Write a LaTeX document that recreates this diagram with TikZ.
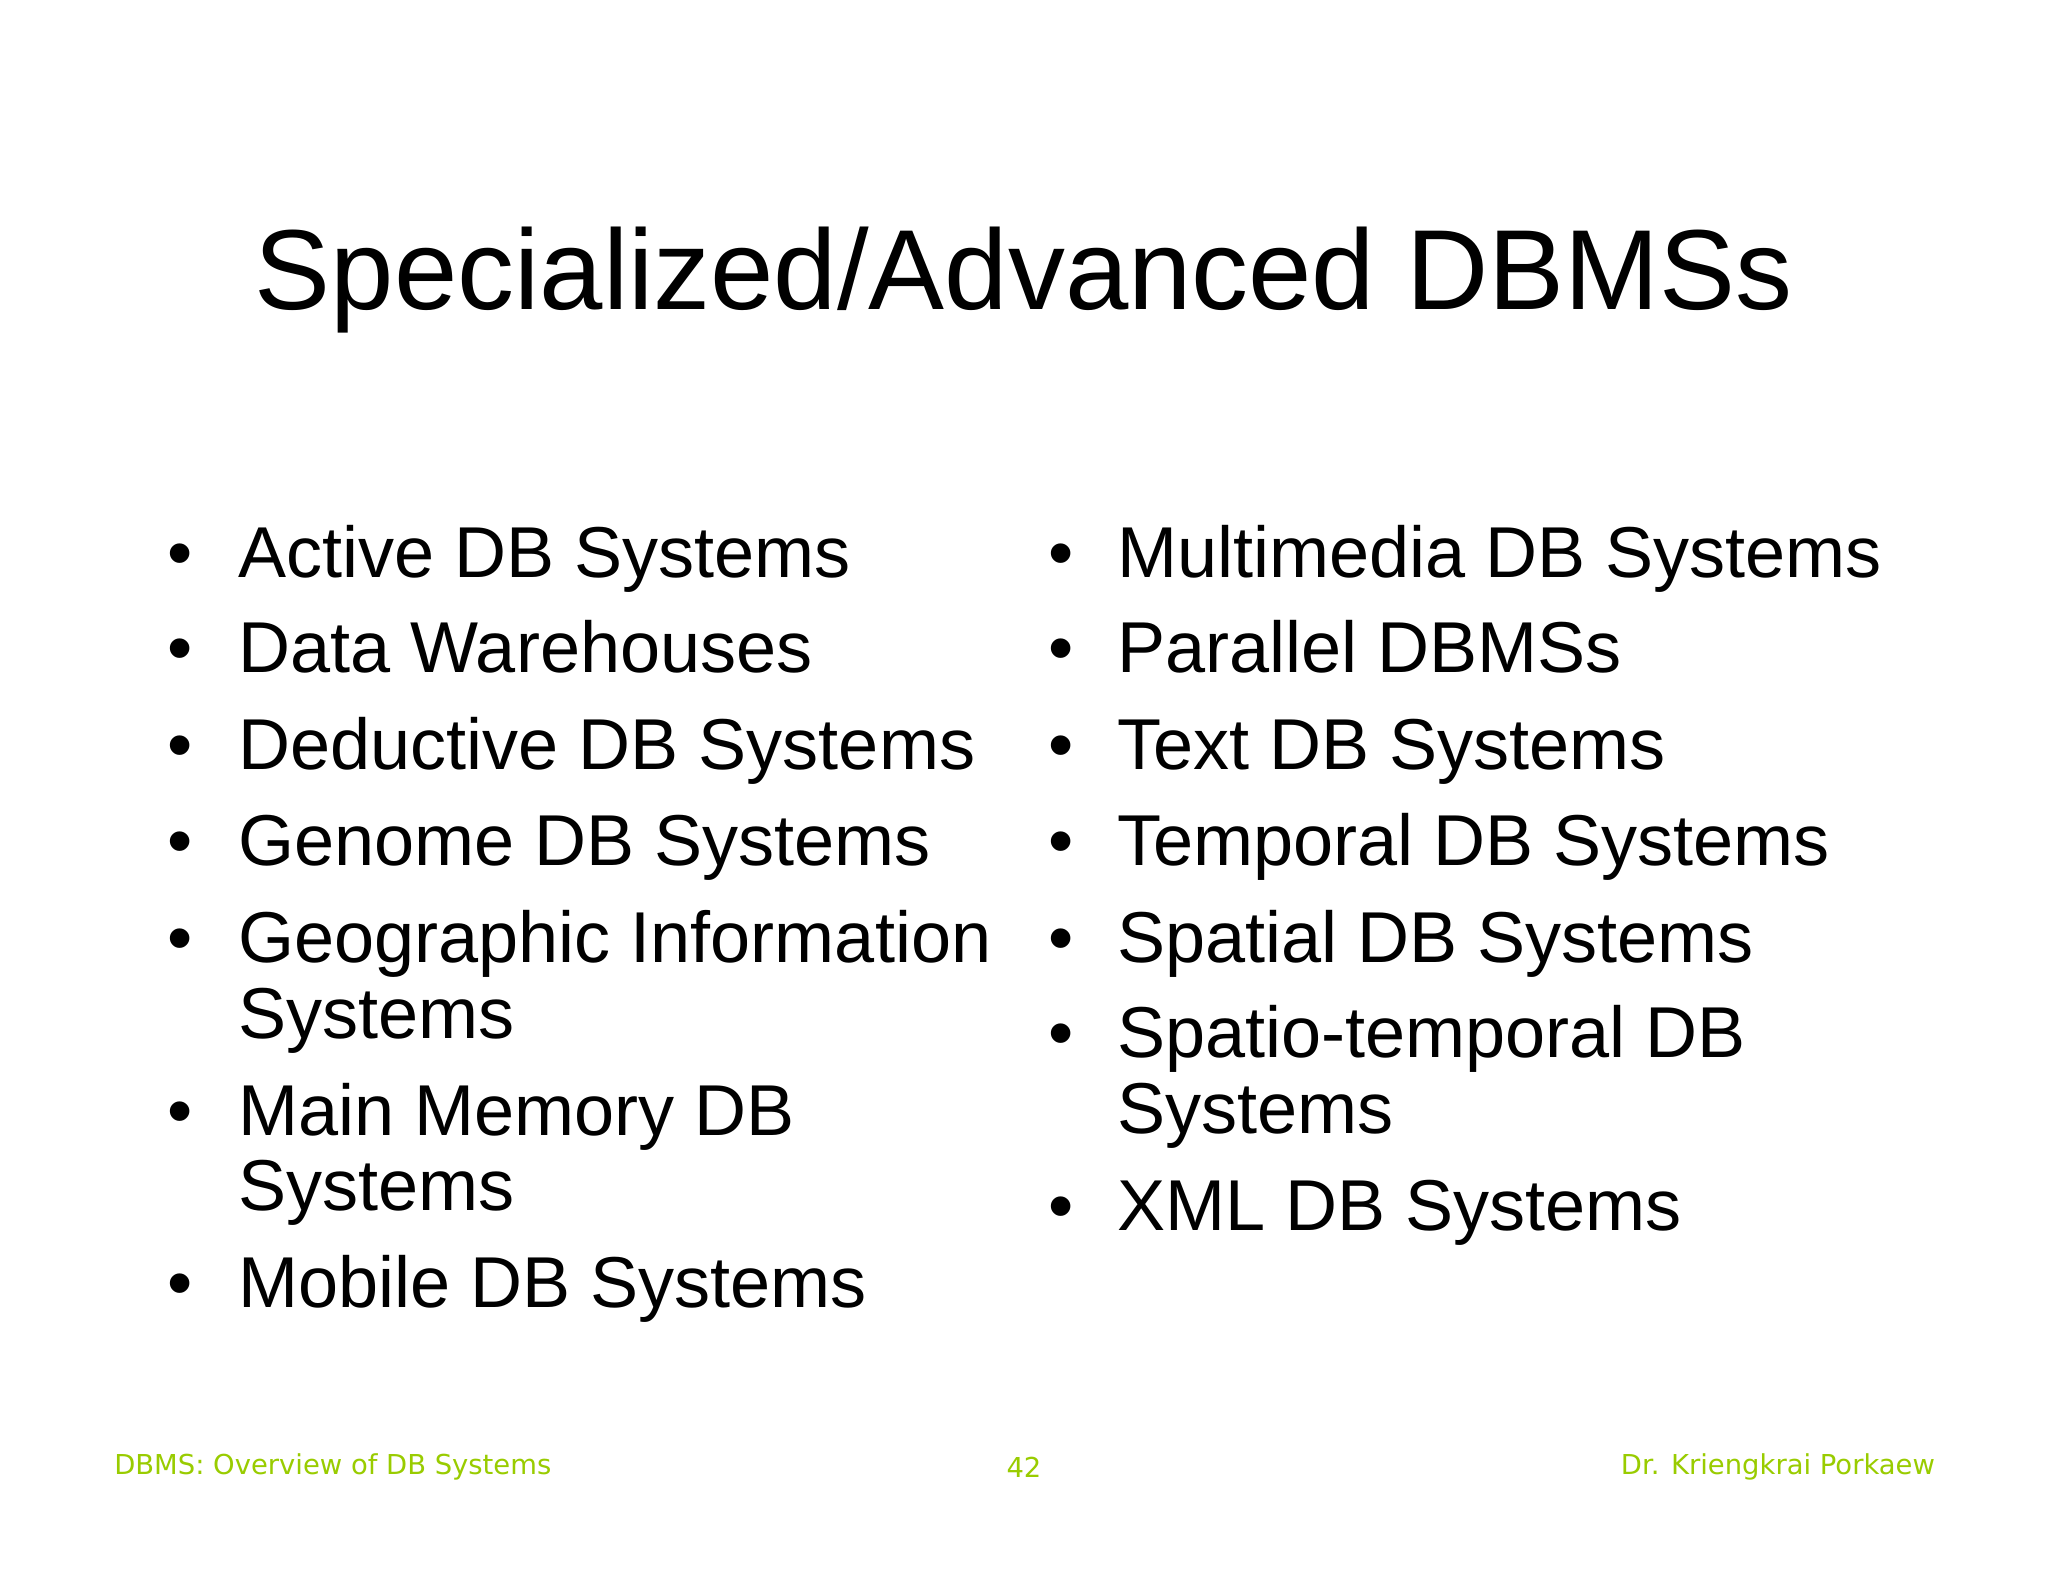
\documentclass[tikz,border=0pt]{standalone}
\usepackage{fontspec}
\setmainfont{Liberation Sans}
\newfontfamily\footfont{DejaVu Sans}
\definecolor{footgreen}{RGB}{153,204,0}
\begin{document}
\begin{tikzpicture}[x=0.01306cm,y=-0.01306cm,
  item/.style={anchor=base west,inner sep=0pt,font=\fontsize{20.5}{21.5}\selectfont},
  foot/.style={inner sep=0pt,font=\footfont\fontsize{7.8}{8}\selectfont,text=footgreen}]
\useasboundingbox[fill=white] (0,0) rectangle (1568,1211);
\node[anchor=base,inner sep=0pt,font=\fontsize{32.4}{32}\selectfont] (title) at (784,237) {Specialized/Advanced DBMSs};
\foreach \y/\t [count=\i] in {442/Active DB Systems,515/Data Warehouses,589/Deductive DB Systems,663/Genome DB Systems,737/Geographic Information,869/Main Memory DB,1001/Mobile DB Systems}{
  \node[item] (lb\i) at (128,\y) {•};
  \node[item] (l\i) at (182,\y) {\t};
}
\node[item] (l5b) at (182,795) {Systems};
\node[item] (l6b) at (182,927) {Systems};
\foreach \y/\t [count=\i] in {442/Multimedia DB Systems,515/Parallel DBMSs,589/Text DB Systems,663/Temporal DB Systems,737/Spatial DB Systems,810/Spatio-temporal DB,942/XML DB Systems}{
  \node[item] (rb\i) at (802,\y) {•};
  \node[item] (r\i) at (855,\y) {\t};
}
\node[item] (r6b) at (855,868) {Systems};
\node[foot,anchor=base west] (f1) at (87,1129) {DBMS: Overview of DB Systems};
\node[foot,anchor=base] (f2) at (784,1131) {42};
\node[foot,anchor=base east] (f3) at (1482,1129) {Dr. Kriengkrai Porkaew};
\end{tikzpicture}
\end{document}
